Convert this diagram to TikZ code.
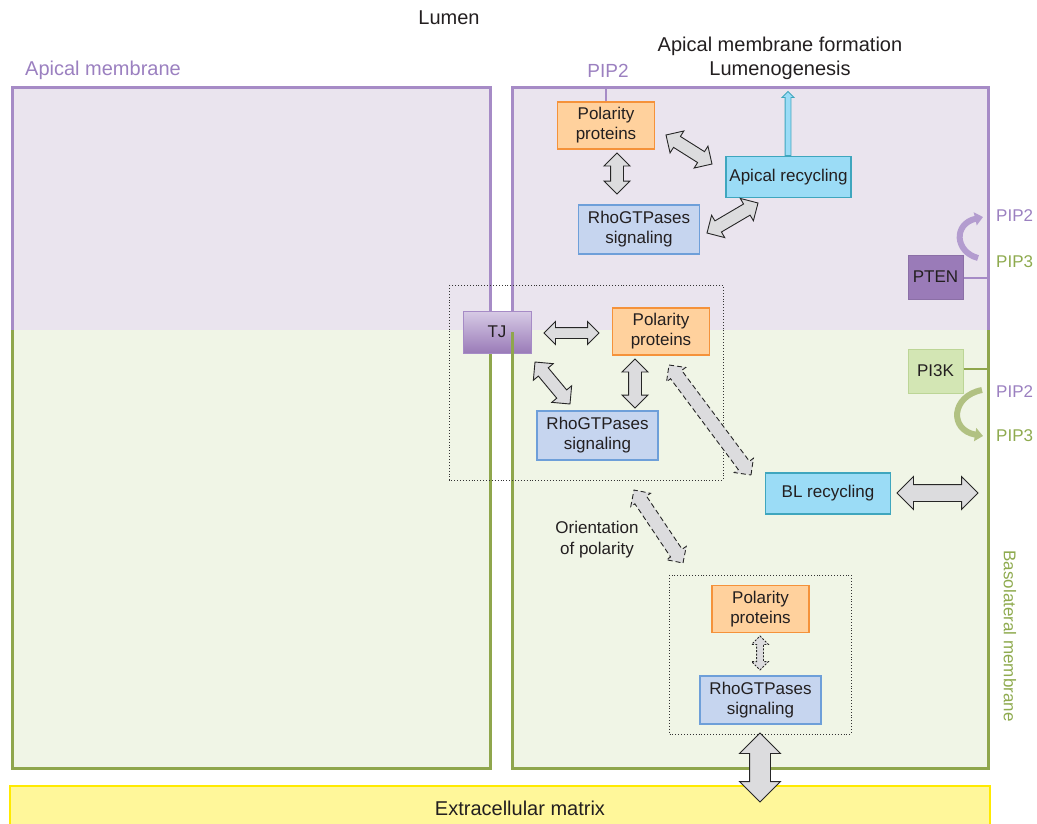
\documentclass[tikz,border=0pt]{standalone}
\usepackage{fontspec}
\setmainfont{Liberation Sans}
\usepackage{tikz}
\usetikzlibrary{calc,shapes.arrows,arrows.meta}
\tikzset{>=latex}

\definecolor{apic}{HTML}{A68BC6}
\definecolor{apictxt}{HTML}{9B80C0}
\definecolor{apicfill}{HTML}{EAE4EE}
\definecolor{baso}{HTML}{8FA64C}
\definecolor{basotxt}{HTML}{8EAA4E}
\definecolor{basofill}{HTML}{F0F5E6}
\definecolor{orfill}{HTML}{FFD19D}
\definecolor{ordraw}{HTML}{F5923A}
\definecolor{blfill}{HTML}{C6D5EF}
\definecolor{bldraw}{HTML}{6E9FD9}
\definecolor{cyfill}{HTML}{9BDCF6}
\definecolor{cydraw}{HTML}{3FA6BE}
\definecolor{arrfill}{HTML}{DCDCDE}
\definecolor{ecmfill}{HTML}{FFF79A}
\definecolor{ecmdraw}{HTML}{FFEA00}
\definecolor{ptenfill}{HTML}{9A7BB8}
\definecolor{pikfill}{HTML}{D3E6B4}
\definecolor{pikdraw}{HTML}{BCD596}
\definecolor{txt}{HTML}{231F20}

\tikzset{
  box/.style={draw, line width=1.2pt, text=txt, align=center, inner sep=2pt,
    font=\fontsize{17}{20}\selectfont},
  polbox/.style={box, fill=orfill, draw=ordraw, minimum width=97pt, minimum height=47pt},
  rhobox/.style={box, fill=blfill, draw=bldraw, minimum width=121pt, minimum height=49pt},
  recbox/.style={box, fill=cyfill, draw=cydraw, minimum width=125pt, minimum height=41pt},
  enzbox/.style={box, line width=1pt, minimum width=55pt, minimum height=44pt},
  lbl/.style={font=\fontsize{20}{24}\selectfont, text=txt, align=center, inner sep=0pt},
  sml/.style={font=\fontsize{17}{21}\selectfont, text=txt, align=center, inner sep=0pt},
  dblarr/.style={double arrow, draw=black!85, fill=arrfill, line width=0.9pt,
    inner xsep=0pt, inner ysep=6pt, double arrow head extend=6.5pt,
    double arrow tip angle=90, minimum width=25pt},
  dasharr/.style={dblarr, dash pattern=on 5pt off 3pt, inner ysep=6.5pt,
    double arrow head extend=5pt, minimum width=23pt},
  dotarr/.style={dblarr, line width=0.8pt, dash pattern=on 2pt off 1.5pt, inner ysep=3pt,
    double arrow head extend=5pt, minimum width=16pt},
  bigarr/.style={dblarr, inner ysep=8pt, double arrow head extend=8pt, minimum width=32pt},
  ecmarr/.style={dblarr, inner ysep=10pt, double arrow head extend=10pt, minimum width=40pt},
  cyarr/.style={single arrow, draw=cydraw, fill=cyfill, line width=0.9pt,
    inner xsep=0pt, inner ysep=2.5pt, single arrow head extend=3pt,
    single arrow tip angle=90, minimum width=11pt},
  memb/.style={line width=3pt},
  conv/.style={line width=6pt, -{Triangle[width=13pt,length=8pt]}},
}

% fat arrow node stretched between two coordinates
\newcommand{\fatarr}[3][dblarr]{%
  \path let \p1=(#2), \p2=(#3), \n1={atan2(\y2-\y1,\x2-\x1)}, \n2={veclen(\x2-\x1,\y2-\y1)} in
    node[#1, rotate=\n1, minimum height=\n2] at ($(\p1)!0.5!(\p2)$) {};}

\begin{document}
\begin{tikzpicture}[x=1pt,y=-1pt]
        \useasboundingbox (0,0) rectangle (1037,823);
        %%% cells
        \fill[apicfill] (12,87) rectangle (490,330);
        \fill[basofill] (12,330) rectangle (490,768);
        \fill[apicfill] (512,87) rectangle (988,330);
        \fill[basofill] (512,330) rectangle (988,768);
        \coordinate (apicedge) at (0,87);
        \coordinate (mr) at (988,0);
        \draw[memb,apic] (12,330) -- (12,87) -- (490,87) -- (490,311);
        \draw[memb,baso] (12,330) -- (12,768) -- (490,768) -- (490,353);
        \draw[memb,apic] (512,311) -- (512,87) -- (988,87) -- (988,330);
        %%%
        \node[box, draw=apic, line width=1pt, top color=apic!45, bottom color=ptenfill,
              minimum width=68pt, minimum height=42pt] (tj) at (497,332) {TJ};
        \draw[memb,baso] (512,332) -- (512,768) -- (988,768) -- (988,330);
        %%% extracellular matrix
        \node[draw=ecmdraw, line width=2pt, fill=ecmfill, minimum width=980pt,
              minimum height=44pt] (ecm) at (500,808) {};
        \node[lbl] (ecmtxt) at (520,808) {Extracellular matrix};
        %%% labels
        \node[lbl] (lumen) at (449,18) {Lumen};
        \node[lbl, text=apictxt, anchor=west] (apm) at (25,70) {Apical membrane};
        \node[lbl] (form) at (780,58) {Apical membrane formation\\Lumenogenesis};
        \node[lbl, text=apictxt, font=\fontsize{19}{23}\selectfont] (pip2top) at (608,71) {PIP2};
        \node[sml, text=basotxt, rotate=-90] (bmem) at (1010,636) {Basolateral membrane};
        \node[sml] (orient) at (597,540) {Orientation\\of polarity};
        %%% apical modules
        \node[polbox] (pptop) at (606,125.5) {Polarity\\proteins};
        \node[rhobox] (rhotop) at (639,229.5) {RhoGTPases\\signaling};
        \node[recbox] (aprec) at (788.5,177) {Apical recycling};
        \draw[apic, line width=2pt] (pptop.north) -- (pptop.north |- apicedge);
        %%% junctional modules
        \node[polbox] (ppmid) at (661,331.5) {Polarity\\proteins};
        \node[rhobox] (rhomid) at (597.5,435.5) {RhoGTPases\\signaling};
        \node[recbox] (blrec) at (828,493.5) {BL recycling};
        \draw[black!80, dotted, line width=0.9pt] (449,285) rectangle (723,480);
        %%% basal modules
        \node[polbox] (ppbot) at (760.5,609) {Polarity\\proteins};
        \node[rhobox, minimum height=48pt] (rhobot) at (760.5,700) {RhoGTPases\\signaling};
        \draw[black!80, dotted, line width=0.9pt] (669,575) rectangle (851,734);
        %%% PTEN / PI3K
        \node[enzbox, fill=ptenfill, draw=ptenfill!90!black] (pten) at (935.5,277) {PTEN};
        \node[enzbox, fill=pikfill, draw=pikdraw] (pik) at (935.5,371) {PI3K};
        \draw[apic, line width=2pt] (pten.east |- 0,278) -- (mr |- 0,278);
        \draw[baso, line width=2pt] (pik.east |- 0,369) -- (mr |- 0,369);
        \node[sml, text=apictxt, anchor=west] (pip2a) at (996,216) {PIP2};
        \node[sml, text=basotxt, anchor=west] (pip3a) at (996,262) {PIP3};
        \node[sml, text=apictxt, anchor=west] (pip2b) at (996,392) {PIP2};
        \node[sml, text=basotxt, anchor=west] (pip3b) at (996,436) {PIP3};
        \draw[conv, apic!85] ($(pip3a.west)+(-18,-4)$) .. controls (955,252) and (953,224) .. ($(pip2a.west)+(-13,1)$);
        \draw[conv, baso!70] ($(pip2b.west)+(-14,-2)$) .. controls (951,396) and (949,430) .. ($(pip3b.west)+(-13,0)$);
        %%% arrow ends
        \coordinate (pr1) at (617,153);  \coordinate (pr2) at (617,194);
        \coordinate (pa1) at (666,135);  \coordinate (pa2) at (712,164);
        \coordinate (ra1) at (707,233);  \coordinate (ra2) at (758,203);
        \coordinate (tp1) at (544,333);  \coordinate (tp2) at (599,333);
        \coordinate (tr1) at (535,362);  \coordinate (tr2) at (570,404);
        \coordinate (mr1) at (635,359);  \coordinate (mr2) at (635,408);
        \coordinate (pb1) at (669,365);  \coordinate (pb2) at (751,475);
        \coordinate (or1) at (634,490);  \coordinate (or2) at (683,563);
        \coordinate (bl1) at (897,493);  \coordinate (bl2) at (978,493);
        \coordinate (bb1) at (760,636);  \coordinate (bb2) at (760,670);
        \coordinate (ec1) at (760,733);  \coordinate (ec2) at (760,802);
        \coordinate (ap1) at (788,157);  \coordinate (ap2) at (788,93);
        %%% arrows
        \fatarr{pr1}{pr2}
        \fatarr{pa1}{pa2}
        \fatarr{ra1}{ra2}
        \fatarr[dblarr, inner ysep=5pt, double arrow head extend=6pt, minimum width=22pt]{tp1}{tp2}
        \fatarr{tr1}{tr2}
        \fatarr{mr1}{mr2}
        \fatarr[dasharr]{pb1}{pb2}
        \fatarr[dasharr]{or1}{or2}
        \fatarr[bigarr]{bl1}{bl2}
        \fatarr[dotarr]{bb1}{bb2}
        \fatarr[ecmarr]{ec1}{ec2}
        \fatarr[cyarr]{ap1}{ap2}
        %%%
\end{tikzpicture}
\end{document}
